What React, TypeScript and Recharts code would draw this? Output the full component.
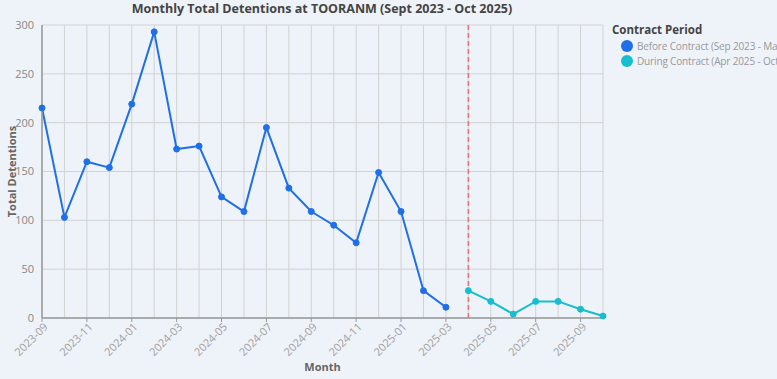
import { LineChart, Line, XAxis, YAxis, CartesianGrid, ReferenceLine } from 'recharts';

const months = [
    '2023-09', '2023-10', '2023-11', '2023-12', '2024-01', '2024-02', '2024-03', '2024-04', '2024-05',
    '2024-06', '2024-07', '2024-08', '2024-09', '2024-10', '2024-11', '2024-12', '2025-01', '2025-02',
    '2025-03', '2025-04', '2025-05', '2025-06', '2025-07', '2025-08', '2025-09', '2025-10',
];
const beforeValues = [215, 103, 160, 154, 219, 293, 173, 176, 124, 109, 195, 133, 109, 95, 77, 149, 109, 28, 11];
const duringValues = [28, 17, 4, 17, 17, 9, 2];
const yTicks = [0, 50, 100, 150, 200, 250, 300];
const contractStart = '2025-04';

const BLUE = '#1f6fe8';
const TEAL = '#17becf';
const BG = '#eef2f9';
const FONT = '"Open Sans", "Noto Sans", sans-serif';

const startIdx = months.indexOf(contractStart);
const data = months.map((month, i) => ({
    idx: i,
    month,
    before: i < beforeValues.length ? beforeValues[i] : null,
    during: i >= startIdx ? duringValues[i - startIdx] : null,
}));
const allTicks = months.map((_, i) => i);
const labelTicks = allTicks.filter((i) => i % 2 === 0);

function MonthTick({ x, y, payload }: any) {
    return (
        <text
            x={x + 3}
            y={y}
            dy={5}
            textAnchor="end"
            fontSize={11}
            fill="#a0a0a0"
            fontFamily={FONT}
            transform={`rotate(-45, ${x + 3}, ${y})`}
        >
            {months[payload.value]}
        </text>
    );
}

export default function App() {
    return (
        <div style={{ position: 'fixed', left: 0, top: 0, width: 777, height: 379, overflow: 'hidden', background: BG, fontFamily: FONT }}>
            <LineChart width={777} height={379} data={data} margin={{ top: 25, right: 174, left: 0, bottom: 0 }}>
                <XAxis xAxisId="grid" dataKey="idx" type="number" domain={[0, months.length - 1]} ticks={allTicks} hide />
                <CartesianGrid xAxisId="grid" stroke="#d2d2d2" strokeWidth={1} />
                <XAxis
                    dataKey="idx"
                    type="number"
                    domain={[0, months.length - 1]}
                    ticks={labelTicks}
                    tick={<MonthTick />}
                    tickLine={{ stroke: '#999' }}
                    tickSize={4}
                    axisLine={{ stroke: '#999', strokeWidth: 1.5 }}
                    height={61}
                    label={{ value: 'Month', position: 'insideBottom', offset: 8, fontSize: 11, fontWeight: 700, fill: '#666', fontFamily: FONT }}
                />
                <YAxis
                    domain={[0, 300]}
                    ticks={yTicks}
                    width={42}
                    tick={{ fontSize: 11, fill: '#888', fontFamily: FONT }}
                    tickLine={false}
                    axisLine={{ stroke: '#999', strokeWidth: 1.5 }}
                    label={{ value: 'Total Detentions', angle: -90, position: 'insideLeft', offset: 12, fontSize: 11, fontWeight: 700, fill: '#666', fontFamily: FONT, style: { textAnchor: 'middle' } }}
                />
                <ReferenceLine x={startIdx} stroke="#f07070" strokeDasharray="5 3" strokeWidth={1.5} />
                <Line type="linear" dataKey="before" stroke={BLUE} strokeWidth={2} dot={{ r: 3, fill: BLUE, stroke: BLUE, strokeWidth: 1 }} connectNulls={false} isAnimationActive={false} />
                <Line type="linear" dataKey="during" stroke={TEAL} strokeWidth={2} dot={{ r: 3, fill: TEAL, stroke: TEAL, strokeWidth: 1 }} connectNulls={false} isAnimationActive={false} />
            </LineChart>
            <div style={{ position: 'absolute', zIndex: 2, left: 0, width: 644, top: 0, lineHeight: '18px', textAlign: 'center', fontSize: 12.5, fontWeight: 700, color: '#444' }}>
                Monthly Total Detentions at TOORANM (Sept 2023 - Oct 2025)
            </div>
            <div style={{ position: 'absolute', zIndex: 2, left: 612, top: 22, whiteSpace: 'nowrap', color: '#999', fontSize: 10, letterSpacing: -0.15 }}>
                <div style={{ fontWeight: 700, fontSize: 11.5, lineHeight: '16px', color: '#444', letterSpacing: 0 }}>Contract Period</div>
                <div style={{ display: 'flex', alignItems: 'center', height: 15, paddingLeft: 9 }}>
                    <span style={{ width: 12, height: 12, borderRadius: 6, background: BLUE, marginRight: 4, flexShrink: 0 }} />
                    Before Contract (Sep 2023 - Mar 2025)
                </div>
                <div style={{ display: 'flex', alignItems: 'center', height: 15, paddingLeft: 9 }}>
                    <span style={{ width: 12, height: 12, borderRadius: 6, background: TEAL, marginRight: 4, flexShrink: 0 }} />
                    During Contract (Apr 2025 - Oct 2025)
                </div>
            </div>
        </div>
    );
}
